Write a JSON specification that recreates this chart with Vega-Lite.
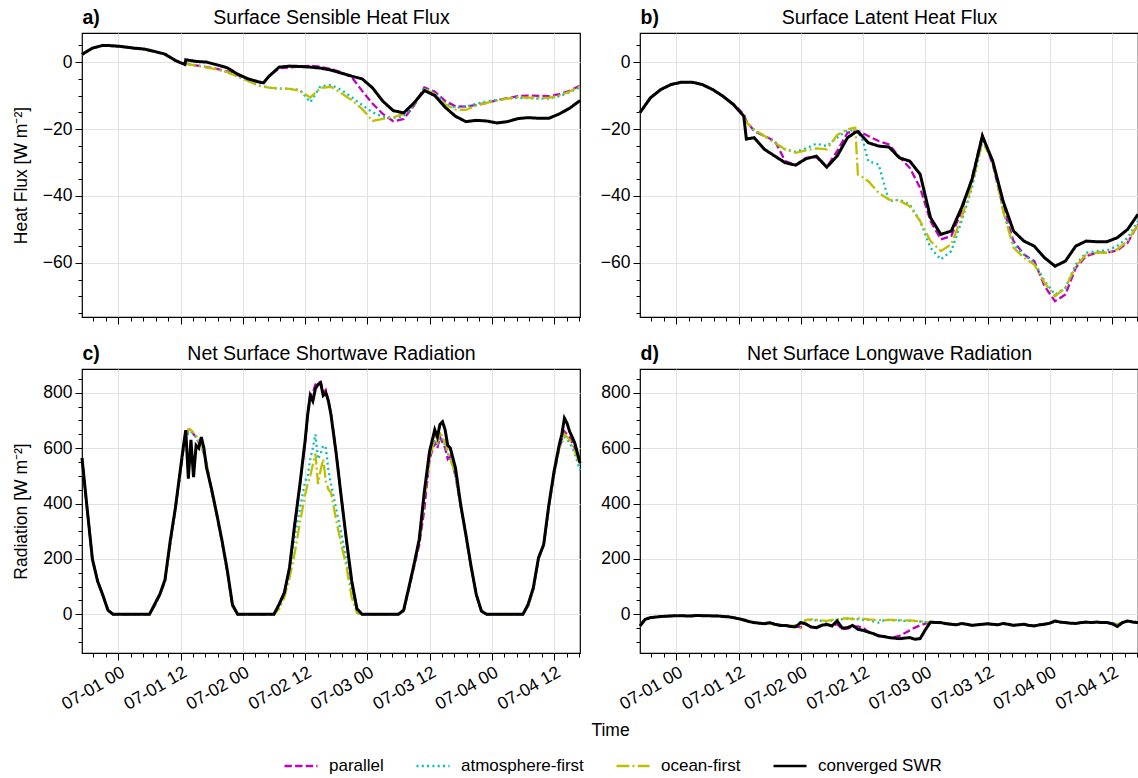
{
  "$schema": "https://vega.github.io/schema/vega-lite/v6.json",
  "padding": {"left": 11, "top": 6, "right": 4, "bottom": 4},
  "background": "white",
  "config": {
    "font": "Liberation Sans",
    "view": {"stroke": "#000000", "strokeWidth": 1.2},
    "axis": {"domain": false, "tickColor": "#000000", "tickWidth": 1, "labelColor": "#000000", "labelFontSize": 17.5, "labelPadding": 3, "titleColor": "#000000", "titleFontSize": 17.5, "titleFontWeight": "normal", "gridColor": "#e2e2e2", "gridWidth": 1},
    "line": {"strokeCap": "butt"}
  },
  "datasets": {
    "sh": [
      {"t":"2023-06-30T17:00Z","parallel":2.3,"atmosphere-first":2.3,"ocean-first":2.3,"converged SWR":2.3},
      {"t":"2023-06-30T19:00Z","parallel":4.1,"atmosphere-first":4.1,"ocean-first":4.1,"converged SWR":4.2},
      {"t":"2023-06-30T21:00Z","parallel":4.9,"atmosphere-first":4.9,"ocean-first":4.9,"converged SWR":5.0},
      {"t":"2023-06-30T23:00Z","parallel":4.8,"atmosphere-first":4.8,"ocean-first":4.8,"converged SWR":4.9},
      {"t":"2023-07-01T01:00Z","parallel":4.5,"atmosphere-first":4.5,"ocean-first":4.5,"converged SWR":4.6},
      {"t":"2023-07-01T03:00Z","parallel":4.1,"atmosphere-first":4.1,"ocean-first":4.1,"converged SWR":4.2},
      {"t":"2023-07-01T05:00Z","parallel":3.8,"atmosphere-first":3.8,"ocean-first":3.8,"converged SWR":3.9},
      {"t":"2023-07-01T07:00Z","parallel":3.1,"atmosphere-first":3.1,"ocean-first":3.1,"converged SWR":3.2},
      {"t":"2023-07-01T09:00Z","parallel":2.3,"atmosphere-first":2.3,"ocean-first":2.3,"converged SWR":2.4},
      {"t":"2023-07-01T11:00Z","parallel":0.4,"atmosphere-first":0.4,"ocean-first":0.4,"converged SWR":0.5},
      {"t":"2023-07-01T12:00Z","parallel":-0.1,"atmosphere-first":-0.1,"ocean-first":-0.1,"converged SWR":-0.2},
      {"t":"2023-07-01T12:50Z","parallel":-0.3,"atmosphere-first":-0.4,"ocean-first":-0.4,"converged SWR":-0.7},
      {"t":"2023-07-01T13:00Z","parallel":-0.4,"atmosphere-first":-0.5,"ocean-first":-0.5,"converged SWR":0.7},
      {"t":"2023-07-01T15:00Z","parallel":-1.0,"atmosphere-first":-1.0,"ocean-first":-1.0,"converged SWR":0.2},
      {"t":"2023-07-01T17:00Z","parallel":-1.5,"atmosphere-first":-1.5,"ocean-first":-1.6,"converged SWR":0.0},
      {"t":"2023-07-01T19:00Z","parallel":-2.0,"atmosphere-first":-2.1,"ocean-first":-2.2,"converged SWR":-0.8},
      {"t":"2023-07-01T21:00Z","parallel":-2.8,"atmosphere-first":-3.0,"ocean-first":-3.0,"converged SWR":-1.7},
      {"t":"2023-07-01T23:00Z","parallel":-3.9,"atmosphere-first":-4.3,"ocean-first":-4.3,"converged SWR":-3.6},
      {"t":"2023-07-02T01:00Z","parallel":-5.0,"atmosphere-first":-5.6,"ocean-first":-5.6,"converged SWR":-5.0},
      {"t":"2023-07-02T03:00Z","parallel":-5.9,"atmosphere-first":-7.0,"ocean-first":-7.0,"converged SWR":-5.9},
      {"t":"2023-07-02T04:00Z","parallel":-6.2,"atmosphere-first":-7.3,"ocean-first":-7.3,"converged SWR":-6.2},
      {"t":"2023-07-02T05:00Z","parallel":-4.3,"atmosphere-first":-7.6,"ocean-first":-7.6,"converged SWR":-4.3},
      {"t":"2023-07-02T07:00Z","parallel":-1.8,"atmosphere-first":-7.9,"ocean-first":-7.9,"converged SWR":-1.5},
      {"t":"2023-07-02T09:00Z","parallel":-1.6,"atmosphere-first":-8.0,"ocean-first":-8.0,"converged SWR":-1.2},
      {"t":"2023-07-02T11:00Z","parallel":-1.3,"atmosphere-first":-8.3,"ocean-first":-8.6,"converged SWR":-1.3},
      {"t":"2023-07-02T13:00Z","parallel":-1.1,"atmosphere-first":-12.0,"ocean-first":-10.6,"converged SWR":-1.5},
      {"t":"2023-07-02T15:00Z","parallel":-1.4,"atmosphere-first":-7.2,"ocean-first":-7.7,"converged SWR":-1.8},
      {"t":"2023-07-02T17:00Z","parallel":-2.1,"atmosphere-first":-6.8,"ocean-first":-7.4,"converged SWR":-2.4},
      {"t":"2023-07-02T19:00Z","parallel":-3.0,"atmosphere-first":-8.3,"ocean-first":-9.3,"converged SWR":-3.3},
      {"t":"2023-07-02T21:00Z","parallel":-4.5,"atmosphere-first":-10.5,"ocean-first":-11.4,"converged SWR":-4.2},
      {"t":"2023-07-02T23:00Z","parallel":-8.6,"atmosphere-first":-12.8,"ocean-first":-14.0,"converged SWR":-5.0},
      {"t":"2023-07-03T01:00Z","parallel":-12.4,"atmosphere-first":-15.0,"ocean-first":-17.6,"converged SWR":-7.7},
      {"t":"2023-07-03T03:00Z","parallel":-15.5,"atmosphere-first":-16.3,"ocean-first":-17.0,"converged SWR":-11.7},
      {"t":"2023-07-03T05:00Z","parallel":-17.7,"atmosphere-first":-16.7,"ocean-first":-16.5,"converged SWR":-14.5},
      {"t":"2023-07-03T07:00Z","parallel":-17.0,"atmosphere-first":-16.2,"ocean-first":-15.5,"converged SWR":-15.2},
      {"t":"2023-07-03T09:00Z","parallel":-13.0,"atmosphere-first":-13.0,"ocean-first":-12.5,"converged SWR":-12.2},
      {"t":"2023-07-03T11:00Z","parallel":-7.6,"atmosphere-first":-7.8,"ocean-first":-8.2,"converged SWR":-8.5},
      {"t":"2023-07-03T13:00Z","parallel":-8.8,"atmosphere-first":-9.3,"ocean-first":-9.5,"converged SWR":-10.0},
      {"t":"2023-07-03T15:00Z","parallel":-11.6,"atmosphere-first":-12.3,"ocean-first":-12.6,"converged SWR":-13.5},
      {"t":"2023-07-03T17:00Z","parallel":-13.2,"atmosphere-first":-13.7,"ocean-first":-14.2,"converged SWR":-16.2},
      {"t":"2023-07-03T19:00Z","parallel":-13.3,"atmosphere-first":-13.3,"ocean-first":-14.3,"converged SWR":-17.8},
      {"t":"2023-07-03T21:00Z","parallel":-12.8,"atmosphere-first":-12.5,"ocean-first":-13.0,"converged SWR":-17.4},
      {"t":"2023-07-03T23:00Z","parallel":-12.2,"atmosphere-first":-11.8,"ocean-first":-12.2,"converged SWR":-17.6},
      {"t":"2023-07-04T01:00Z","parallel":-11.4,"atmosphere-first":-11.3,"ocean-first":-11.5,"converged SWR":-18.2},
      {"t":"2023-07-04T03:00Z","parallel":-10.8,"atmosphere-first":-10.9,"ocean-first":-10.9,"converged SWR":-17.8},
      {"t":"2023-07-04T05:00Z","parallel":-10.2,"atmosphere-first":-10.7,"ocean-first":-10.5,"converged SWR":-16.9},
      {"t":"2023-07-04T07:00Z","parallel":-10.0,"atmosphere-first":-10.8,"ocean-first":-10.6,"converged SWR":-16.6},
      {"t":"2023-07-04T09:00Z","parallel":-10.1,"atmosphere-first":-10.9,"ocean-first":-10.7,"converged SWR":-16.8},
      {"t":"2023-07-04T11:00Z","parallel":-10.2,"atmosphere-first":-10.9,"ocean-first":-10.7,"converged SWR":-16.8},
      {"t":"2023-07-04T13:00Z","parallel":-9.6,"atmosphere-first":-10.2,"ocean-first":-10.0,"converged SWR":-15.5},
      {"t":"2023-07-04T15:00Z","parallel":-8.6,"atmosphere-first":-9.0,"ocean-first":-8.8,"converged SWR":-13.8},
      {"t":"2023-07-04T17:00Z","parallel":-7.0,"atmosphere-first":-7.5,"ocean-first":-7.2,"converged SWR":-11.5}
    ],
    "lh": [
      {"t":"2023-06-30T17:00Z","parallel":-15.1,"atmosphere-first":-15.1,"ocean-first":-15.1,"converged SWR":-15.1},
      {"t":"2023-06-30T19:00Z","parallel":-10.7,"atmosphere-first":-10.7,"ocean-first":-10.7,"converged SWR":-10.7},
      {"t":"2023-06-30T21:00Z","parallel":-8.2,"atmosphere-first":-8.2,"ocean-first":-8.2,"converged SWR":-8.2},
      {"t":"2023-06-30T23:00Z","parallel":-6.7,"atmosphere-first":-6.7,"ocean-first":-6.7,"converged SWR":-6.7},
      {"t":"2023-07-01T01:00Z","parallel":-6.0,"atmosphere-first":-6.0,"ocean-first":-6.0,"converged SWR":-6.0},
      {"t":"2023-07-01T03:00Z","parallel":-6.0,"atmosphere-first":-6.0,"ocean-first":-6.0,"converged SWR":-6.0},
      {"t":"2023-07-01T05:00Z","parallel":-6.7,"atmosphere-first":-6.7,"ocean-first":-6.7,"converged SWR":-6.7},
      {"t":"2023-07-01T07:00Z","parallel":-8.2,"atmosphere-first":-8.2,"ocean-first":-8.2,"converged SWR":-8.2},
      {"t":"2023-07-01T09:00Z","parallel":-10.2,"atmosphere-first":-10.2,"ocean-first":-10.2,"converged SWR":-10.2},
      {"t":"2023-07-01T11:00Z","parallel":-12.5,"atmosphere-first":-12.5,"ocean-first":-12.5,"converged SWR":-12.7},
      {"t":"2023-07-01T13:00Z","parallel":-15.6,"atmosphere-first":-16.1,"ocean-first":-16.1,"converged SWR":-16.1},
      {"t":"2023-07-01T13:30Z","parallel":-17.6,"atmosphere-first":-18.0,"ocean-first":-18.0,"converged SWR":-23.0},
      {"t":"2023-07-01T15:00Z","parallel":-20.6,"atmosphere-first":-20.6,"ocean-first":-20.1,"converged SWR":-22.6},
      {"t":"2023-07-01T17:00Z","parallel":-22.1,"atmosphere-first":-22.1,"ocean-first":-22.1,"converged SWR":-26.1},
      {"t":"2023-07-01T19:00Z","parallel":-23.6,"atmosphere-first":-24.1,"ocean-first":-24.1,"converged SWR":-28.1},
      {"t":"2023-07-01T21:00Z","parallel":-29.6,"atmosphere-first":-26.1,"ocean-first":-26.1,"converged SWR":-30.1},
      {"t":"2023-07-01T23:00Z","parallel":-30.8,"atmosphere-first":-26.8,"ocean-first":-27.1,"converged SWR":-30.8},
      {"t":"2023-07-02T01:00Z","parallel":-28.6,"atmosphere-first":-25.8,"ocean-first":-26.4,"converged SWR":-28.9},
      {"t":"2023-07-02T03:00Z","parallel":-28.4,"atmosphere-first":-24.4,"ocean-first":-25.8,"converged SWR":-28.1},
      {"t":"2023-07-02T05:00Z","parallel":-31.4,"atmosphere-first":-25.1,"ocean-first":-26.1,"converged SWR":-31.4},
      {"t":"2023-07-02T07:00Z","parallel":-26.6,"atmosphere-first":-22.6,"ocean-first":-21.8,"converged SWR":-28.1},
      {"t":"2023-07-02T09:00Z","parallel":-21.1,"atmosphere-first":-20.4,"ocean-first":-20.1,"converged SWR":-22.6},
      {"t":"2023-07-02T10:30Z","parallel":-20.7,"atmosphere-first":-20.5,"ocean-first":-19.6,"converged SWR":-21.0},
      {"t":"2023-07-02T11:00Z","parallel":-20.6,"atmosphere-first":-20.8,"ocean-first":-33.6,"converged SWR":-20.8},
      {"t":"2023-07-02T12:00Z","parallel":-21.3,"atmosphere-first":-23.6,"ocean-first":-34.5,"converged SWR":-22.4},
      {"t":"2023-07-02T13:00Z","parallel":-22.1,"atmosphere-first":-29.6,"ocean-first":-35.6,"converged SWR":-24.1},
      {"t":"2023-07-02T15:00Z","parallel":-23.6,"atmosphere-first":-30.6,"ocean-first":-39.1,"converged SWR":-25.1},
      {"t":"2023-07-02T17:00Z","parallel":-24.6,"atmosphere-first":-41.6,"ocean-first":-41.1,"converged SWR":-25.4},
      {"t":"2023-07-02T19:00Z","parallel":-28.4,"atmosphere-first":-41.1,"ocean-first":-41.4,"converged SWR":-28.6},
      {"t":"2023-07-02T21:00Z","parallel":-31.6,"atmosphere-first":-42.6,"ocean-first":-43.1,"converged SWR":-29.6},
      {"t":"2023-07-02T23:00Z","parallel":-37.6,"atmosphere-first":-47.5,"ocean-first":-47.5,"converged SWR":-33.5},
      {"t":"2023-07-03T01:00Z","parallel":-47.5,"atmosphere-first":-55.5,"ocean-first":-53.5,"converged SWR":-46.5},
      {"t":"2023-07-03T03:00Z","parallel":-53.0,"atmosphere-first":-59.0,"ocean-first":-56.5,"converged SWR":-51.5},
      {"t":"2023-07-03T05:00Z","parallel":-52.0,"atmosphere-first":-56.5,"ocean-first":-54.5,"converged SWR":-50.5},
      {"t":"2023-07-03T07:00Z","parallel":-44.5,"atmosphere-first":-47.5,"ocean-first":-46.5,"converged SWR":-43.5},
      {"t":"2023-07-03T09:00Z","parallel":-34.6,"atmosphere-first":-37.6,"ocean-first":-36.6,"converged SWR":-35.1},
      {"t":"2023-07-03T11:00Z","parallel":-21.8,"atmosphere-first":-23.6,"ocean-first":-23.6,"converged SWR":-22.1},
      {"t":"2023-07-03T13:00Z","parallel":-30.6,"atmosphere-first":-29.6,"ocean-first":-29.6,"converged SWR":-29.6},
      {"t":"2023-07-03T15:00Z","parallel":-43.5,"atmosphere-first":-44.5,"ocean-first":-44.5,"converged SWR":-41.6},
      {"t":"2023-07-03T17:00Z","parallel":-53.5,"atmosphere-first":-54.5,"ocean-first":-55.5,"converged SWR":-50.5},
      {"t":"2023-07-03T19:00Z","parallel":-57.5,"atmosphere-first":-57.5,"ocean-first":-58.5,"converged SWR":-53.5},
      {"t":"2023-07-03T21:00Z","parallel":-59.5,"atmosphere-first":-60.0,"ocean-first":-60.5,"converged SWR":-55.0},
      {"t":"2023-07-03T23:00Z","parallel":-67.0,"atmosphere-first":-65.5,"ocean-first":-66.0,"converged SWR":-58.5},
      {"t":"2023-07-04T01:00Z","parallel":-71.5,"atmosphere-first":-69.5,"ocean-first":-70.0,"converged SWR":-61.0},
      {"t":"2023-07-04T03:00Z","parallel":-69.5,"atmosphere-first":-67.5,"ocean-first":-67.5,"converged SWR":-59.5},
      {"t":"2023-07-04T05:00Z","parallel":-61.5,"atmosphere-first":-60.5,"ocean-first":-61.0,"converged SWR":-55.0},
      {"t":"2023-07-04T07:00Z","parallel":-58.0,"atmosphere-first":-57.0,"ocean-first":-57.5,"converged SWR":-53.5},
      {"t":"2023-07-04T09:00Z","parallel":-57.0,"atmosphere-first":-56.5,"ocean-first":-57.0,"converged SWR":-53.7},
      {"t":"2023-07-04T11:00Z","parallel":-57.0,"atmosphere-first":-56.3,"ocean-first":-57.0,"converged SWR":-53.7},
      {"t":"2023-07-04T13:00Z","parallel":-56.3,"atmosphere-first":-55.0,"ocean-first":-56.0,"converged SWR":-52.5},
      {"t":"2023-07-04T15:00Z","parallel":-54.0,"atmosphere-first":-52.5,"ocean-first":-53.5,"converged SWR":-50.0},
      {"t":"2023-07-04T17:00Z","parallel":-48.5,"atmosphere-first":-47.5,"ocean-first":-48.5,"converged SWR":-45.5}
    ],
    "sw": [
      {"t":"2023-06-30T17:00Z","parallel":560,"atmosphere-first":560,"ocean-first":560,"converged SWR":565},
      {"t":"2023-06-30T18:00Z","parallel":380,"atmosphere-first":380,"ocean-first":380,"converged SWR":380},
      {"t":"2023-06-30T19:00Z","parallel":200,"atmosphere-first":200,"ocean-first":200,"converged SWR":200},
      {"t":"2023-06-30T20:00Z","parallel":120,"atmosphere-first":120,"ocean-first":120,"converged SWR":120},
      {"t":"2023-06-30T21:00Z","parallel":70,"atmosphere-first":70,"ocean-first":70,"converged SWR":70},
      {"t":"2023-06-30T22:00Z","parallel":15,"atmosphere-first":15,"ocean-first":15,"converged SWR":15},
      {"t":"2023-06-30T23:00Z","parallel":0,"atmosphere-first":0,"ocean-first":0,"converged SWR":0},
      {"t":"2023-07-01T00:00Z","parallel":0,"atmosphere-first":0,"ocean-first":0,"converged SWR":0},
      {"t":"2023-07-01T01:00Z","parallel":0,"atmosphere-first":0,"ocean-first":0,"converged SWR":0},
      {"t":"2023-07-01T02:00Z","parallel":0,"atmosphere-first":0,"ocean-first":0,"converged SWR":0},
      {"t":"2023-07-01T03:00Z","parallel":0,"atmosphere-first":0,"ocean-first":0,"converged SWR":0},
      {"t":"2023-07-01T04:00Z","parallel":0,"atmosphere-first":0,"ocean-first":0,"converged SWR":0},
      {"t":"2023-07-01T05:00Z","parallel":0,"atmosphere-first":0,"ocean-first":0,"converged SWR":0},
      {"t":"2023-07-01T06:00Z","parallel":0,"atmosphere-first":0,"ocean-first":0,"converged SWR":0},
      {"t":"2023-07-01T07:00Z","parallel":30,"atmosphere-first":30,"ocean-first":30,"converged SWR":36},
      {"t":"2023-07-01T08:00Z","parallel":70,"atmosphere-first":70,"ocean-first":70,"converged SWR":72},
      {"t":"2023-07-01T09:00Z","parallel":120,"atmosphere-first":120,"ocean-first":120,"converged SWR":125},
      {"t":"2023-07-01T10:00Z","parallel":255,"atmosphere-first":255,"ocean-first":255,"converged SWR":264},
      {"t":"2023-07-01T11:00Z","parallel":380,"atmosphere-first":380,"ocean-first":380,"converged SWR":384},
      {"t":"2023-07-01T12:00Z","parallel":520,"atmosphere-first":520,"ocean-first":520,"converged SWR":528},
      {"t":"2023-07-01T12:30Z","parallel":590,"atmosphere-first":585,"ocean-first":590,"converged SWR":600},
      {"t":"2023-07-01T13:00Z","parallel":640,"atmosphere-first":630,"ocean-first":650,"converged SWR":665},
      {"t":"2023-07-01T13:30Z","parallel":665,"atmosphere-first":655,"ocean-first":668,"converged SWR":490},
      {"t":"2023-07-01T14:00Z","parallel":670,"atmosphere-first":660,"ocean-first":665,"converged SWR":630},
      {"t":"2023-07-01T14:30Z","parallel":650,"atmosphere-first":648,"ocean-first":655,"converged SWR":495},
      {"t":"2023-07-01T15:00Z","parallel":640,"atmosphere-first":640,"ocean-first":645,"converged SWR":610},
      {"t":"2023-07-01T15:30Z","parallel":620,"atmosphere-first":620,"ocean-first":625,"converged SWR":600},
      {"t":"2023-07-01T16:00Z","parallel":610,"atmosphere-first":610,"ocean-first":615,"converged SWR":640},
      {"t":"2023-07-01T16:30Z","parallel":580,"atmosphere-first":578,"ocean-first":580,"converged SWR":600},
      {"t":"2023-07-01T17:00Z","parallel":545,"atmosphere-first":545,"ocean-first":545,"converged SWR":530},
      {"t":"2023-07-01T18:00Z","parallel":445,"atmosphere-first":445,"ocean-first":445,"converged SWR":450},
      {"t":"2023-07-01T19:00Z","parallel":355,"atmosphere-first":355,"ocean-first":355,"converged SWR":360},
      {"t":"2023-07-01T20:00Z","parallel":260,"atmosphere-first":260,"ocean-first":260,"converged SWR":265},
      {"t":"2023-07-01T21:00Z","parallel":155,"atmosphere-first":155,"ocean-first":155,"converged SWR":160},
      {"t":"2023-07-01T22:00Z","parallel":30,"atmosphere-first":30,"ocean-first":30,"converged SWR":35},
      {"t":"2023-07-01T23:00Z","parallel":0,"atmosphere-first":0,"ocean-first":0,"converged SWR":0},
      {"t":"2023-07-02T00:00Z","parallel":0,"atmosphere-first":0,"ocean-first":0,"converged SWR":0},
      {"t":"2023-07-02T01:00Z","parallel":0,"atmosphere-first":0,"ocean-first":0,"converged SWR":0},
      {"t":"2023-07-02T02:00Z","parallel":0,"atmosphere-first":0,"ocean-first":0,"converged SWR":0},
      {"t":"2023-07-02T03:00Z","parallel":0,"atmosphere-first":0,"ocean-first":0,"converged SWR":0},
      {"t":"2023-07-02T04:00Z","parallel":0,"atmosphere-first":0,"ocean-first":0,"converged SWR":0},
      {"t":"2023-07-02T05:00Z","parallel":0,"atmosphere-first":0,"ocean-first":0,"converged SWR":0},
      {"t":"2023-07-02T06:00Z","parallel":0,"atmosphere-first":0,"ocean-first":0,"converged SWR":0},
      {"t":"2023-07-02T07:00Z","parallel":36,"atmosphere-first":25,"ocean-first":20,"converged SWR":36},
      {"t":"2023-07-02T08:00Z","parallel":78,"atmosphere-first":70,"ocean-first":60,"converged SWR":78},
      {"t":"2023-07-02T09:00Z","parallel":165,"atmosphere-first":160,"ocean-first":130,"converged SWR":168},
      {"t":"2023-07-02T10:00Z","parallel":320,"atmosphere-first":280,"ocean-first":220,"converged SWR":324},
      {"t":"2023-07-02T11:00Z","parallel":465,"atmosphere-first":380,"ocean-first":330,"converged SWR":468},
      {"t":"2023-07-02T12:00Z","parallel":620,"atmosphere-first":480,"ocean-first":430,"converged SWR":625},
      {"t":"2023-07-02T12:30Z","parallel":720,"atmosphere-first":500,"ocean-first":470,"converged SWR":720},
      {"t":"2023-07-02T13:00Z","parallel":790,"atmosphere-first":560,"ocean-first":500,"converged SWR":790},
      {"t":"2023-07-02T13:30Z","parallel":800,"atmosphere-first":600,"ocean-first":540,"converged SWR":770},
      {"t":"2023-07-02T14:00Z","parallel":830,"atmosphere-first":650,"ocean-first":580,"converged SWR":815},
      {"t":"2023-07-02T14:30Z","parallel":835,"atmosphere-first":560,"ocean-first":470,"converged SWR":830},
      {"t":"2023-07-02T15:00Z","parallel":840,"atmosphere-first":580,"ocean-first":520,"converged SWR":835},
      {"t":"2023-07-02T15:30Z","parallel":800,"atmosphere-first":610,"ocean-first":560,"converged SWR":790},
      {"t":"2023-07-02T16:00Z","parallel":810,"atmosphere-first":600,"ocean-first":480,"converged SWR":800},
      {"t":"2023-07-02T16:30Z","parallel":770,"atmosphere-first":520,"ocean-first":450,"converged SWR":770},
      {"t":"2023-07-02T17:00Z","parallel":725,"atmosphere-first":470,"ocean-first":440,"converged SWR":720},
      {"t":"2023-07-02T18:00Z","parallel":585,"atmosphere-first":380,"ocean-first":340,"converged SWR":580},
      {"t":"2023-07-02T19:00Z","parallel":420,"atmosphere-first":290,"ocean-first":250,"converged SWR":420},
      {"t":"2023-07-02T20:00Z","parallel":260,"atmosphere-first":190,"ocean-first":170,"converged SWR":265},
      {"t":"2023-07-02T21:00Z","parallel":115,"atmosphere-first":80,"ocean-first":60,"converged SWR":120},
      {"t":"2023-07-02T22:00Z","parallel":18,"atmosphere-first":5,"ocean-first":5,"converged SWR":20},
      {"t":"2023-07-02T23:00Z","parallel":0,"atmosphere-first":0,"ocean-first":0,"converged SWR":0},
      {"t":"2023-07-03T00:00Z","parallel":0,"atmosphere-first":0,"ocean-first":0,"converged SWR":0},
      {"t":"2023-07-03T01:00Z","parallel":0,"atmosphere-first":0,"ocean-first":0,"converged SWR":0},
      {"t":"2023-07-03T02:00Z","parallel":0,"atmosphere-first":0,"ocean-first":0,"converged SWR":0},
      {"t":"2023-07-03T03:00Z","parallel":0,"atmosphere-first":0,"ocean-first":0,"converged SWR":0},
      {"t":"2023-07-03T04:00Z","parallel":0,"atmosphere-first":0,"ocean-first":0,"converged SWR":0},
      {"t":"2023-07-03T05:00Z","parallel":0,"atmosphere-first":0,"ocean-first":0,"converged SWR":0},
      {"t":"2023-07-03T06:00Z","parallel":0,"atmosphere-first":0,"ocean-first":0,"converged SWR":0},
      {"t":"2023-07-03T07:00Z","parallel":12,"atmosphere-first":12,"ocean-first":12,"converged SWR":15},
      {"t":"2023-07-03T08:00Z","parallel":90,"atmosphere-first":95,"ocean-first":95,"converged SWR":96},
      {"t":"2023-07-03T09:00Z","parallel":170,"atmosphere-first":175,"ocean-first":175,"converged SWR":180},
      {"t":"2023-07-03T10:00Z","parallel":250,"atmosphere-first":265,"ocean-first":265,"converged SWR":270},
      {"t":"2023-07-03T11:00Z","parallel":380,"atmosphere-first":430,"ocean-first":420,"converged SWR":444},
      {"t":"2023-07-03T12:00Z","parallel":560,"atmosphere-first":570,"ocean-first":560,"converged SWR":588},
      {"t":"2023-07-03T13:00Z","parallel":620,"atmosphere-first":630,"ocean-first":640,"converged SWR":666},
      {"t":"2023-07-03T13:30Z","parallel":600,"atmosphere-first":610,"ocean-first":620,"converged SWR":640},
      {"t":"2023-07-03T14:00Z","parallel":640,"atmosphere-first":650,"ocean-first":660,"converged SWR":685},
      {"t":"2023-07-03T14:30Z","parallel":620,"atmosphere-first":630,"ocean-first":640,"converged SWR":695},
      {"t":"2023-07-03T15:00Z","parallel":600,"atmosphere-first":610,"ocean-first":620,"converged SWR":666},
      {"t":"2023-07-03T15:30Z","parallel":560,"atmosphere-first":580,"ocean-first":590,"converged SWR":610},
      {"t":"2023-07-03T16:00Z","parallel":570,"atmosphere-first":560,"ocean-first":560,"converged SWR":600},
      {"t":"2023-07-03T17:00Z","parallel":500,"atmosphere-first":500,"ocean-first":510,"converged SWR":528},
      {"t":"2023-07-03T18:00Z","parallel":390,"atmosphere-first":385,"ocean-first":390,"converged SWR":396},
      {"t":"2023-07-03T19:00Z","parallel":285,"atmosphere-first":280,"ocean-first":285,"converged SWR":288},
      {"t":"2023-07-03T20:00Z","parallel":170,"atmosphere-first":170,"ocean-first":170,"converged SWR":174},
      {"t":"2023-07-03T21:00Z","parallel":70,"atmosphere-first":70,"ocean-first":70,"converged SWR":72},
      {"t":"2023-07-03T22:00Z","parallel":10,"atmosphere-first":10,"ocean-first":10,"converged SWR":12},
      {"t":"2023-07-03T23:00Z","parallel":0,"atmosphere-first":0,"ocean-first":0,"converged SWR":0},
      {"t":"2023-07-04T00:00Z","parallel":0,"atmosphere-first":0,"ocean-first":0,"converged SWR":0},
      {"t":"2023-07-04T01:00Z","parallel":0,"atmosphere-first":0,"ocean-first":0,"converged SWR":0},
      {"t":"2023-07-04T02:00Z","parallel":0,"atmosphere-first":0,"ocean-first":0,"converged SWR":0},
      {"t":"2023-07-04T03:00Z","parallel":0,"atmosphere-first":0,"ocean-first":0,"converged SWR":0},
      {"t":"2023-07-04T04:00Z","parallel":0,"atmosphere-first":0,"ocean-first":0,"converged SWR":0},
      {"t":"2023-07-04T05:00Z","parallel":0,"atmosphere-first":0,"ocean-first":0,"converged SWR":0},
      {"t":"2023-07-04T06:00Z","parallel":0,"atmosphere-first":0,"ocean-first":0,"converged SWR":0},
      {"t":"2023-07-04T07:00Z","parallel":30,"atmosphere-first":30,"ocean-first":30,"converged SWR":36},
      {"t":"2023-07-04T08:00Z","parallel":90,"atmosphere-first":90,"ocean-first":90,"converged SWR":96},
      {"t":"2023-07-04T09:00Z","parallel":200,"atmosphere-first":200,"ocean-first":200,"converged SWR":204},
      {"t":"2023-07-04T10:00Z","parallel":250,"atmosphere-first":250,"ocean-first":250,"converged SWR":252},
      {"t":"2023-07-04T11:00Z","parallel":390,"atmosphere-first":385,"ocean-first":390,"converged SWR":396},
      {"t":"2023-07-04T12:00Z","parallel":505,"atmosphere-first":510,"ocean-first":510,"converged SWR":516},
      {"t":"2023-07-04T13:00Z","parallel":600,"atmosphere-first":600,"ocean-first":600,"converged SWR":612},
      {"t":"2023-07-04T13:30Z","parallel":630,"atmosphere-first":620,"ocean-first":625,"converged SWR":650},
      {"t":"2023-07-04T14:00Z","parallel":660,"atmosphere-first":640,"ocean-first":650,"converged SWR":708},
      {"t":"2023-07-04T14:30Z","parallel":650,"atmosphere-first":630,"ocean-first":640,"converged SWR":690},
      {"t":"2023-07-04T15:00Z","parallel":640,"atmosphere-first":620,"ocean-first":630,"converged SWR":660},
      {"t":"2023-07-04T15:30Z","parallel":620,"atmosphere-first":600,"ocean-first":610,"converged SWR":640},
      {"t":"2023-07-04T16:00Z","parallel":600,"atmosphere-first":580,"ocean-first":590,"converged SWR":618},
      {"t":"2023-07-04T17:00Z","parallel":550,"atmosphere-first":520,"ocean-first":540,"converged SWR":546}
    ],
    "lw": [
      {"t":"2023-06-30T17:00Z","parallel":-40,"atmosphere-first":-40,"ocean-first":-40,"converged SWR":-42},
      {"t":"2023-06-30T18:00Z","parallel":-18,"atmosphere-first":-18,"ocean-first":-18,"converged SWR":-18},
      {"t":"2023-06-30T19:00Z","parallel":-12,"atmosphere-first":-12,"ocean-first":-12,"converged SWR":-12},
      {"t":"2023-06-30T20:00Z","parallel":-10,"atmosphere-first":-10,"ocean-first":-10,"converged SWR":-10},
      {"t":"2023-06-30T21:00Z","parallel":-8,"atmosphere-first":-8,"ocean-first":-8,"converged SWR":-8},
      {"t":"2023-06-30T22:00Z","parallel":-7,"atmosphere-first":-7,"ocean-first":-7,"converged SWR":-7},
      {"t":"2023-06-30T23:00Z","parallel":-6,"atmosphere-first":-6,"ocean-first":-6,"converged SWR":-6},
      {"t":"2023-07-01T00:00Z","parallel":-5,"atmosphere-first":-5,"ocean-first":-5,"converged SWR":-5},
      {"t":"2023-07-01T01:00Z","parallel":-5,"atmosphere-first":-5,"ocean-first":-5,"converged SWR":-5},
      {"t":"2023-07-01T02:00Z","parallel":-6,"atmosphere-first":-6,"ocean-first":-6,"converged SWR":-6},
      {"t":"2023-07-01T03:00Z","parallel":-5,"atmosphere-first":-5,"ocean-first":-5,"converged SWR":-6},
      {"t":"2023-07-01T04:00Z","parallel":-4,"atmosphere-first":-4,"ocean-first":-4,"converged SWR":-4},
      {"t":"2023-07-01T05:00Z","parallel":-5,"atmosphere-first":-5,"ocean-first":-5,"converged SWR":-5},
      {"t":"2023-07-01T06:00Z","parallel":-5,"atmosphere-first":-5,"ocean-first":-5,"converged SWR":-5},
      {"t":"2023-07-01T07:00Z","parallel":-6,"atmosphere-first":-6,"ocean-first":-6,"converged SWR":-6},
      {"t":"2023-07-01T08:00Z","parallel":-6,"atmosphere-first":-6,"ocean-first":-6,"converged SWR":-6},
      {"t":"2023-07-01T09:00Z","parallel":-8,"atmosphere-first":-8,"ocean-first":-8,"converged SWR":-8},
      {"t":"2023-07-01T10:00Z","parallel":-9,"atmosphere-first":-9,"ocean-first":-9,"converged SWR":-9},
      {"t":"2023-07-01T11:00Z","parallel":-12,"atmosphere-first":-12,"ocean-first":-12,"converged SWR":-12},
      {"t":"2023-07-01T12:00Z","parallel":-16,"atmosphere-first":-16,"ocean-first":-16,"converged SWR":-16},
      {"t":"2023-07-01T13:00Z","parallel":-22,"atmosphere-first":-22,"ocean-first":-22,"converged SWR":-20},
      {"t":"2023-07-01T14:00Z","parallel":-26,"atmosphere-first":-26,"ocean-first":-26,"converged SWR":-26},
      {"t":"2023-07-01T15:00Z","parallel":-30,"atmosphere-first":-30,"ocean-first":-30,"converged SWR":-30},
      {"t":"2023-07-01T16:00Z","parallel":-32,"atmosphere-first":-32,"ocean-first":-32,"converged SWR":-32},
      {"t":"2023-07-01T17:00Z","parallel":-34,"atmosphere-first":-34,"ocean-first":-34,"converged SWR":-34},
      {"t":"2023-07-01T18:00Z","parallel":-32,"atmosphere-first":-32,"ocean-first":-32,"converged SWR":-30},
      {"t":"2023-07-01T19:00Z","parallel":-36,"atmosphere-first":-36,"ocean-first":-36,"converged SWR":-36},
      {"t":"2023-07-01T20:00Z","parallel":-38,"atmosphere-first":-38,"ocean-first":-38,"converged SWR":-40},
      {"t":"2023-07-01T21:00Z","parallel":-40,"atmosphere-first":-40,"ocean-first":-40,"converged SWR":-40},
      {"t":"2023-07-01T22:00Z","parallel":-42,"atmosphere-first":-42,"ocean-first":-42,"converged SWR":-44},
      {"t":"2023-07-01T23:00Z","parallel":-44,"atmosphere-first":-40,"ocean-first":-40,"converged SWR":-45},
      {"t":"2023-07-02T00:00Z","parallel":-46,"atmosphere-first":-26,"ocean-first":-50,"converged SWR":-30},
      {"t":"2023-07-02T01:00Z","parallel":-36,"atmosphere-first":-22,"ocean-first":-20,"converged SWR":-35},
      {"t":"2023-07-02T02:00Z","parallel":-46,"atmosphere-first":-20,"ocean-first":-18,"converged SWR":-46},
      {"t":"2023-07-02T03:00Z","parallel":-50,"atmosphere-first":-22,"ocean-first":-20,"converged SWR":-48},
      {"t":"2023-07-02T04:00Z","parallel":-42,"atmosphere-first":-24,"ocean-first":-22,"converged SWR":-40},
      {"t":"2023-07-02T05:00Z","parallel":-38,"atmosphere-first":-26,"ocean-first":-24,"converged SWR":-36},
      {"t":"2023-07-02T06:00Z","parallel":-42,"atmosphere-first":-22,"ocean-first":-20,"converged SWR":-42},
      {"t":"2023-07-02T07:00Z","parallel":-36,"atmosphere-first":-20,"ocean-first":-18,"converged SWR":-24},
      {"t":"2023-07-02T08:00Z","parallel":-54,"atmosphere-first":-18,"ocean-first":-16,"converged SWR":-50},
      {"t":"2023-07-02T09:00Z","parallel":-52,"atmosphere-first":-16,"ocean-first":-14,"converged SWR":-48},
      {"t":"2023-07-02T10:00Z","parallel":-46,"atmosphere-first":-16,"ocean-first":-18,"converged SWR":-40},
      {"t":"2023-07-02T11:00Z","parallel":-44,"atmosphere-first":-18,"ocean-first":-14,"converged SWR":-54},
      {"t":"2023-07-02T12:00Z","parallel":-48,"atmosphere-first":-20,"ocean-first":-16,"converged SWR":-58},
      {"t":"2023-07-02T13:00Z","parallel":-64,"atmosphere-first":-20,"ocean-first":-18,"converged SWR":-64},
      {"t":"2023-07-02T14:00Z","parallel":-70,"atmosphere-first":-26,"ocean-first":-20,"converged SWR":-70},
      {"t":"2023-07-02T15:00Z","parallel":-76,"atmosphere-first":-30,"ocean-first":-20,"converged SWR":-78},
      {"t":"2023-07-02T16:00Z","parallel":-80,"atmosphere-first":-22,"ocean-first":-22,"converged SWR":-80},
      {"t":"2023-07-02T17:00Z","parallel":-84,"atmosphere-first":-20,"ocean-first":-20,"converged SWR":-84},
      {"t":"2023-07-02T18:00Z","parallel":-82,"atmosphere-first":-22,"ocean-first":-20,"converged SWR":-86},
      {"t":"2023-07-02T19:00Z","parallel":-78,"atmosphere-first":-22,"ocean-first":-22,"converged SWR":-88},
      {"t":"2023-07-02T20:00Z","parallel":-68,"atmosphere-first":-24,"ocean-first":-22,"converged SWR":-86},
      {"t":"2023-07-02T21:00Z","parallel":-58,"atmosphere-first":-24,"ocean-first":-22,"converged SWR":-84},
      {"t":"2023-07-02T22:00Z","parallel":-48,"atmosphere-first":-24,"ocean-first":-24,"converged SWR":-90},
      {"t":"2023-07-02T23:00Z","parallel":-40,"atmosphere-first":-26,"ocean-first":-25,"converged SWR":-88},
      {"t":"2023-07-03T00:00Z","parallel":-34,"atmosphere-first":-28,"ocean-first":-28,"converged SWR":-56},
      {"t":"2023-07-03T01:00Z","parallel":-30,"atmosphere-first":-28,"ocean-first":-28,"converged SWR":-28},
      {"t":"2023-07-03T02:00Z","parallel":-30,"atmosphere-first":-29,"ocean-first":-29,"converged SWR":-30},
      {"t":"2023-07-03T03:00Z","parallel":-32,"atmosphere-first":-30,"ocean-first":-30,"converged SWR":-30},
      {"t":"2023-07-03T04:00Z","parallel":-34,"atmosphere-first":-33,"ocean-first":-33,"converged SWR":-34},
      {"t":"2023-07-03T05:00Z","parallel":-36,"atmosphere-first":-35,"ocean-first":-35,"converged SWR":-36},
      {"t":"2023-07-03T06:00Z","parallel":-37,"atmosphere-first":-37,"ocean-first":-37,"converged SWR":-38},
      {"t":"2023-07-03T07:00Z","parallel":-34,"atmosphere-first":-34,"ocean-first":-34,"converged SWR":-33},
      {"t":"2023-07-03T08:00Z","parallel":-36,"atmosphere-first":-36,"ocean-first":-36,"converged SWR":-36},
      {"t":"2023-07-03T09:00Z","parallel":-39,"atmosphere-first":-39,"ocean-first":-39,"converged SWR":-40},
      {"t":"2023-07-03T10:00Z","parallel":-38,"atmosphere-first":-37,"ocean-first":-38,"converged SWR":-38},
      {"t":"2023-07-03T11:00Z","parallel":-36,"atmosphere-first":-36,"ocean-first":-36,"converged SWR":-36},
      {"t":"2023-07-03T12:00Z","parallel":-35,"atmosphere-first":-35,"ocean-first":-35,"converged SWR":-34},
      {"t":"2023-07-03T13:00Z","parallel":-36,"atmosphere-first":-36,"ocean-first":-36,"converged SWR":-36},
      {"t":"2023-07-03T14:00Z","parallel":-37,"atmosphere-first":-37,"ocean-first":-37,"converged SWR":-38},
      {"t":"2023-07-03T15:00Z","parallel":-34,"atmosphere-first":-34,"ocean-first":-34,"converged SWR":-33},
      {"t":"2023-07-03T16:00Z","parallel":-36,"atmosphere-first":-36,"ocean-first":-36,"converged SWR":-36},
      {"t":"2023-07-03T17:00Z","parallel":-39,"atmosphere-first":-38,"ocean-first":-39,"converged SWR":-40},
      {"t":"2023-07-03T18:00Z","parallel":-38,"atmosphere-first":-38,"ocean-first":-38,"converged SWR":-38},
      {"t":"2023-07-03T19:00Z","parallel":-36,"atmosphere-first":-36,"ocean-first":-36,"converged SWR":-36},
      {"t":"2023-07-03T20:00Z","parallel":-40,"atmosphere-first":-39,"ocean-first":-40,"converged SWR":-40},
      {"t":"2023-07-03T21:00Z","parallel":-42,"atmosphere-first":-41,"ocean-first":-42,"converged SWR":-42},
      {"t":"2023-07-03T22:00Z","parallel":-38,"atmosphere-first":-38,"ocean-first":-38,"converged SWR":-38},
      {"t":"2023-07-03T23:00Z","parallel":-35,"atmosphere-first":-36,"ocean-first":-35,"converged SWR":-36},
      {"t":"2023-07-04T00:00Z","parallel":-32,"atmosphere-first":-32,"ocean-first":-32,"converged SWR":-32},
      {"t":"2023-07-04T01:00Z","parallel":-26,"atmosphere-first":-26,"ocean-first":-26,"converged SWR":-24},
      {"t":"2023-07-04T02:00Z","parallel":-28,"atmosphere-first":-28,"ocean-first":-28,"converged SWR":-28},
      {"t":"2023-07-04T03:00Z","parallel":-30,"atmosphere-first":-30,"ocean-first":-30,"converged SWR":-30},
      {"t":"2023-07-04T04:00Z","parallel":-32,"atmosphere-first":-32,"ocean-first":-32,"converged SWR":-32},
      {"t":"2023-07-04T05:00Z","parallel":-33,"atmosphere-first":-32,"ocean-first":-33,"converged SWR":-33},
      {"t":"2023-07-04T06:00Z","parallel":-30,"atmosphere-first":-30,"ocean-first":-30,"converged SWR":-30},
      {"t":"2023-07-04T07:00Z","parallel":-28,"atmosphere-first":-28,"ocean-first":-28,"converged SWR":-28},
      {"t":"2023-07-04T08:00Z","parallel":-30,"atmosphere-first":-30,"ocean-first":-30,"converged SWR":-30},
      {"t":"2023-07-04T09:00Z","parallel":-28,"atmosphere-first":-28,"ocean-first":-28,"converged SWR":-28},
      {"t":"2023-07-04T10:00Z","parallel":-30,"atmosphere-first":-30,"ocean-first":-30,"converged SWR":-30},
      {"t":"2023-07-04T11:00Z","parallel":-30,"atmosphere-first":-30,"ocean-first":-30,"converged SWR":-30},
      {"t":"2023-07-04T12:00Z","parallel":-33,"atmosphere-first":-32,"ocean-first":-33,"converged SWR":-34},
      {"t":"2023-07-04T13:00Z","parallel":-36,"atmosphere-first":-35,"ocean-first":-36,"converged SWR":-44},
      {"t":"2023-07-04T14:00Z","parallel":-30,"atmosphere-first":-30,"ocean-first":-30,"converged SWR":-30},
      {"t":"2023-07-04T15:00Z","parallel":-25,"atmosphere-first":-25,"ocean-first":-25,"converged SWR":-24},
      {"t":"2023-07-04T16:00Z","parallel":-28,"atmosphere-first":-28,"ocean-first":-28,"converged SWR":-28},
      {"t":"2023-07-04T17:00Z","parallel":-30,"atmosphere-first":-30,"ocean-first":-30,"converged SWR":-30}
    ]
  },
  "columns": 2,
  "spacing": {"row": 52, "column": 60},
  "bounds": "flush",
  "resolve": {"scale": {"color": "shared", "strokeDash": "shared"}, "legend": {"color": "shared", "strokeDash": "shared"}},
  "concat": [
    {
      "width": 498, "height": 284,
      "data": {"name": "sh"},
      "transform": [{"fold": ["parallel", "atmosphere-first", "ocean-first", "converged SWR"], "as": ["run", "flux"]}],
      "encoding": {
        "x": {"field": "t", "type": "temporal", "scale": {"type": "utc", "domain": [1688144400000, 1688490000000]}, "axis": null},
        "y": {"field": "flux", "type": "quantitative", "scale": {"domain": [-76.2, 8.7], "nice": false, "zero": false}, "axis": null},
        "color": {"field": "run", "type": "nominal", "scale": {"domain": ["parallel", "atmosphere-first", "ocean-first", "converged SWR"], "range": ["#bf00bf", "#00bfbf", "#bfbf00", "#000000"]}, "legend": {"title": null, "orient": "none", "legendX": 201, "legendY": 715, "direction": "horizontal", "symbolType": "stroke", "symbolSize": 1089, "symbolStrokeWidth": 2.3, "labelFontSize": 17, "labelColor": "#000000", "labelOffset": 10, "columnPadding": 27}},
        "strokeDash": {"field": "run", "type": "nominal", "scale": {"domain": ["parallel", "atmosphere-first", "ocean-first", "converged SWR"], "range": [[7.4, 3.2], [2, 3.3], [12.8, 3.2, 2, 3.2], [1, 0]]}, "legend": {"title": null, "orient": "none", "legendX": 201, "legendY": 715, "direction": "horizontal", "symbolType": "stroke", "symbolSize": 1089, "symbolStrokeWidth": 2.3, "labelFontSize": 17, "labelColor": "#000000", "labelOffset": 10, "columnPadding": 27}}
      },
      "layer": [
        {
          "transform": [{"filter": "datum.run === 'parallel'"}],
          "mark": {"type": "line", "strokeWidth": 2.3},
          "encoding": {
            "x": {"field": "t", "type": "temporal", "scale": {"type": "utc", "domain": [1688144400000, 1688490000000]}, "axis": {"orient": "bottom", "values": [1688169600000, 1688212800000, 1688256000000, 1688299200000, 1688342400000, 1688385600000, 1688428800000, 1688472000000], "labels": false, "grid": true, "tickSize": 7, "title": null}},
            "y": {"field": "flux", "type": "quantitative", "scale": {"domain": [-76.2, 8.7], "nice": false, "zero": false}, "axis": {"orient": "left", "values": [-60, -40, -20, 0], "format": "d", "grid": true, "tickSize": 7, "title": "Heat Flux [W m⁻²]", "titlePadding": 12}}
          }
        },
        {
          "transform": [{"filter": "datum.run === 'atmosphere-first'"}],
          "mark": {"type": "line", "strokeWidth": 2.3},
          "encoding": {
            "x": {"field": "t", "type": "temporal", "scale": {"type": "utc", "domain": [1688144400000, 1688490000000]}, "axis": {"orient": "bottom", "values": [1688152320000, 1688160960000, 1688169600000, 1688178240000, 1688186880000, 1688195520000, 1688204160000, 1688212800000, 1688221440000, 1688230080000, 1688238720000, 1688247360000, 1688256000000, 1688264640000, 1688273280000, 1688281920000, 1688290560000, 1688299200000, 1688307840000, 1688316480000, 1688325120000, 1688333760000, 1688342400000, 1688351040000, 1688359680000, 1688368320000, 1688376960000, 1688385600000, 1688394240000, 1688402880000, 1688411520000, 1688420160000, 1688428800000, 1688437440000, 1688446080000, 1688454720000, 1688463360000, 1688472000000, 1688480640000, 1688489280000], "labels": false, "grid": false, "tickSize": 4, "title": null}},
            "y": {"field": "flux", "type": "quantitative", "scale": {"domain": [-76.2, 8.7], "nice": false, "zero": false}, "axis": {"orient": "left", "values": [5, 0, -5, -10, -15, -20, -25, -30, -35, -40, -45, -50, -55, -60, -65, -70, -75], "labels": false, "grid": false, "tickSize": 4, "title": "a)", "titleAngle": 0, "titleX": 0, "titleY": -10, "titleAlign": "left", "titleBaseline": "alphabetic", "titleFontWeight": "bold", "titleFontSize": 19.5}}
          }
        },
        {
          "transform": [{"filter": "datum.run === 'ocean-first'"}],
          "mark": {"type": "line", "strokeWidth": 2.3},
          "encoding": {
            "x": {"field": "t", "type": "temporal", "scale": {"type": "utc", "domain": [1688144400000, 1688490000000]}, "axis": {"orient": "top", "ticks": false, "labels": false, "grid": false, "title": "Surface Sensible Heat Flux", "titleFontSize": 19.5, "titlePadding": 10, "titleBaseline": "alphabetic"}}
          }
        },
        {
          "transform": [{"filter": "datum.run === 'converged SWR'"}],
          "mark": {"type": "line", "strokeWidth": 3}
        }
      ],
      "resolve": {"axis": {"x": "independent", "y": "independent"}}
    },
    {
      "width": 498, "height": 284,
      "data": {"name": "lh"},
      "transform": [{"fold": ["parallel", "atmosphere-first", "ocean-first", "converged SWR"], "as": ["run", "flux"]}],
      "encoding": {
        "x": {"field": "t", "type": "temporal", "scale": {"type": "utc", "domain": [1688144400000, 1688490000000]}, "axis": null},
        "y": {"field": "flux", "type": "quantitative", "scale": {"domain": [-76.2, 8.7], "nice": false, "zero": false}, "axis": null},
        "color": {"field": "run", "type": "nominal", "scale": {"domain": ["parallel", "atmosphere-first", "ocean-first", "converged SWR"], "range": ["#bf00bf", "#00bfbf", "#bfbf00", "#000000"]}, "legend": {"title": null, "orient": "none", "legendX": 201, "legendY": 715, "direction": "horizontal", "symbolType": "stroke", "symbolSize": 1089, "symbolStrokeWidth": 2.3, "labelFontSize": 17, "labelColor": "#000000", "labelOffset": 10, "columnPadding": 27}},
        "strokeDash": {"field": "run", "type": "nominal", "scale": {"domain": ["parallel", "atmosphere-first", "ocean-first", "converged SWR"], "range": [[7.4, 3.2], [2, 3.3], [12.8, 3.2, 2, 3.2], [1, 0]]}, "legend": {"title": null, "orient": "none", "legendX": 201, "legendY": 715, "direction": "horizontal", "symbolType": "stroke", "symbolSize": 1089, "symbolStrokeWidth": 2.3, "labelFontSize": 17, "labelColor": "#000000", "labelOffset": 10, "columnPadding": 27}}
      },
      "layer": [
        {
          "transform": [{"filter": "datum.run === 'parallel'"}],
          "mark": {"type": "line", "strokeWidth": 2.3},
          "encoding": {
            "x": {"field": "t", "type": "temporal", "scale": {"type": "utc", "domain": [1688144400000, 1688490000000]}, "axis": {"orient": "bottom", "values": [1688169600000, 1688212800000, 1688256000000, 1688299200000, 1688342400000, 1688385600000, 1688428800000, 1688472000000], "labels": false, "grid": true, "tickSize": 7, "title": null}},
            "y": {"field": "flux", "type": "quantitative", "scale": {"domain": [-76.2, 8.7], "nice": false, "zero": false}, "axis": {"orient": "left", "values": [-60, -40, -20, 0], "format": "d", "grid": true, "tickSize": 7, "title": null}}
          }
        },
        {
          "transform": [{"filter": "datum.run === 'atmosphere-first'"}],
          "mark": {"type": "line", "strokeWidth": 2.3},
          "encoding": {
            "x": {"field": "t", "type": "temporal", "scale": {"type": "utc", "domain": [1688144400000, 1688490000000]}, "axis": {"orient": "bottom", "values": [1688152320000, 1688160960000, 1688169600000, 1688178240000, 1688186880000, 1688195520000, 1688204160000, 1688212800000, 1688221440000, 1688230080000, 1688238720000, 1688247360000, 1688256000000, 1688264640000, 1688273280000, 1688281920000, 1688290560000, 1688299200000, 1688307840000, 1688316480000, 1688325120000, 1688333760000, 1688342400000, 1688351040000, 1688359680000, 1688368320000, 1688376960000, 1688385600000, 1688394240000, 1688402880000, 1688411520000, 1688420160000, 1688428800000, 1688437440000, 1688446080000, 1688454720000, 1688463360000, 1688472000000, 1688480640000, 1688489280000], "labels": false, "grid": false, "tickSize": 4, "title": null}},
            "y": {"field": "flux", "type": "quantitative", "scale": {"domain": [-76.2, 8.7], "nice": false, "zero": false}, "axis": {"orient": "left", "values": [5, 0, -5, -10, -15, -20, -25, -30, -35, -40, -45, -50, -55, -60, -65, -70, -75], "labels": false, "grid": false, "tickSize": 4, "title": "b)", "titleAngle": 0, "titleX": 0, "titleY": -10, "titleAlign": "left", "titleBaseline": "alphabetic", "titleFontWeight": "bold", "titleFontSize": 19.5}}
          }
        },
        {
          "transform": [{"filter": "datum.run === 'ocean-first'"}],
          "mark": {"type": "line", "strokeWidth": 2.3},
          "encoding": {
            "x": {"field": "t", "type": "temporal", "scale": {"type": "utc", "domain": [1688144400000, 1688490000000]}, "axis": {"orient": "top", "ticks": false, "labels": false, "grid": false, "title": "Surface Latent Heat Flux", "titleFontSize": 19.5, "titlePadding": 10, "titleBaseline": "alphabetic"}}
          }
        },
        {
          "transform": [{"filter": "datum.run === 'converged SWR'"}],
          "mark": {"type": "line", "strokeWidth": 3}
        }
      ],
      "resolve": {"axis": {"x": "independent", "y": "independent"}}
    },
    {
      "width": 498, "height": 284,
      "data": {"name": "sw"},
      "transform": [{"fold": ["parallel", "atmosphere-first", "ocean-first", "converged SWR"], "as": ["run", "radiation"]}],
      "encoding": {
        "x": {"field": "t", "type": "temporal", "scale": {"type": "utc", "domain": [1688144400000, 1688490000000]}, "axis": null},
        "y": {"field": "radiation", "type": "quantitative", "scale": {"domain": [-139.7, 885.6], "nice": false, "zero": false}, "axis": null},
        "color": {"field": "run", "type": "nominal", "scale": {"domain": ["parallel", "atmosphere-first", "ocean-first", "converged SWR"], "range": ["#bf00bf", "#00bfbf", "#bfbf00", "#000000"]}, "legend": {"title": null, "orient": "none", "legendX": 201, "legendY": 715, "direction": "horizontal", "symbolType": "stroke", "symbolSize": 1089, "symbolStrokeWidth": 2.3, "labelFontSize": 17, "labelColor": "#000000", "labelOffset": 10, "columnPadding": 27}},
        "strokeDash": {"field": "run", "type": "nominal", "scale": {"domain": ["parallel", "atmosphere-first", "ocean-first", "converged SWR"], "range": [[7.4, 3.2], [2, 3.3], [12.8, 3.2, 2, 3.2], [1, 0]]}, "legend": {"title": null, "orient": "none", "legendX": 201, "legendY": 715, "direction": "horizontal", "symbolType": "stroke", "symbolSize": 1089, "symbolStrokeWidth": 2.3, "labelFontSize": 17, "labelColor": "#000000", "labelOffset": 10, "columnPadding": 27}}
      },
      "layer": [
        {
          "transform": [{"filter": "datum.run === 'parallel'"}],
          "mark": {"type": "line", "strokeWidth": 2.3},
          "encoding": {
            "x": {"field": "t", "type": "temporal", "scale": {"type": "utc", "domain": [1688144400000, 1688490000000]}, "axis": {"orient": "bottom", "values": [1688169600000, 1688212800000, 1688256000000, 1688299200000, 1688342400000, 1688385600000, 1688428800000, 1688472000000], "format": "%m-%d %H", "labelAngle": -30, "labelAlign": "right", "labelBaseline": "top", "labelPadding": 3, "labelFlush": false, "labelOverlap": false, "grid": true, "tickSize": 7, "title": "Time", "titleX": 528, "titleY": 77, "titleAlign": "center", "titleBaseline": "middle"}},
            "y": {"field": "radiation", "type": "quantitative", "scale": {"domain": [-139.7, 885.6], "nice": false, "zero": false}, "axis": {"orient": "left", "values": [0, 200, 400, 600, 800], "format": "d", "grid": true, "tickSize": 7, "title": "Radiation [W m⁻²]", "titlePadding": 12}}
          }
        },
        {
          "transform": [{"filter": "datum.run === 'atmosphere-first'"}],
          "mark": {"type": "line", "strokeWidth": 2.3},
          "encoding": {
            "x": {"field": "t", "type": "temporal", "scale": {"type": "utc", "domain": [1688144400000, 1688490000000]}, "axis": {"orient": "bottom", "values": [1688152320000, 1688160960000, 1688169600000, 1688178240000, 1688186880000, 1688195520000, 1688204160000, 1688212800000, 1688221440000, 1688230080000, 1688238720000, 1688247360000, 1688256000000, 1688264640000, 1688273280000, 1688281920000, 1688290560000, 1688299200000, 1688307840000, 1688316480000, 1688325120000, 1688333760000, 1688342400000, 1688351040000, 1688359680000, 1688368320000, 1688376960000, 1688385600000, 1688394240000, 1688402880000, 1688411520000, 1688420160000, 1688428800000, 1688437440000, 1688446080000, 1688454720000, 1688463360000, 1688472000000, 1688480640000, 1688489280000], "labels": false, "grid": false, "tickSize": 4, "title": null}},
            "y": {"field": "radiation", "type": "quantitative", "scale": {"domain": [-139.7, 885.6], "nice": false, "zero": false}, "axis": {"orient": "left", "values": [850, 800, 750, 700, 650, 600, 550, 500, 450, 400, 350, 300, 250, 200, 150, 100, 50, 0, -50, -100], "labels": false, "grid": false, "tickSize": 4, "title": "c)", "titleAngle": 0, "titleX": 0, "titleY": -10, "titleAlign": "left", "titleBaseline": "alphabetic", "titleFontWeight": "bold", "titleFontSize": 19.5}}
          }
        },
        {
          "transform": [{"filter": "datum.run === 'ocean-first'"}],
          "mark": {"type": "line", "strokeWidth": 2.3},
          "encoding": {
            "x": {"field": "t", "type": "temporal", "scale": {"type": "utc", "domain": [1688144400000, 1688490000000]}, "axis": {"orient": "top", "ticks": false, "labels": false, "grid": false, "title": "Net Surface Shortwave Radiation", "titleFontSize": 19.5, "titlePadding": 10, "titleBaseline": "alphabetic"}}
          }
        },
        {
          "transform": [{"filter": "datum.run === 'converged SWR'"}],
          "mark": {"type": "line", "strokeWidth": 3}
        }
      ],
      "resolve": {"axis": {"x": "independent", "y": "independent"}}
    },
    {
      "width": 498, "height": 284,
      "data": {"name": "lw"},
      "transform": [{"fold": ["parallel", "atmosphere-first", "ocean-first", "converged SWR"], "as": ["run", "radiation"]}],
      "encoding": {
        "x": {"field": "t", "type": "temporal", "scale": {"type": "utc", "domain": [1688144400000, 1688490000000]}, "axis": null},
        "y": {"field": "radiation", "type": "quantitative", "scale": {"domain": [-139.7, 885.6], "nice": false, "zero": false}, "axis": null},
        "color": {"field": "run", "type": "nominal", "scale": {"domain": ["parallel", "atmosphere-first", "ocean-first", "converged SWR"], "range": ["#bf00bf", "#00bfbf", "#bfbf00", "#000000"]}, "legend": {"title": null, "orient": "none", "legendX": 201, "legendY": 715, "direction": "horizontal", "symbolType": "stroke", "symbolSize": 1089, "symbolStrokeWidth": 2.3, "labelFontSize": 17, "labelColor": "#000000", "labelOffset": 10, "columnPadding": 27}},
        "strokeDash": {"field": "run", "type": "nominal", "scale": {"domain": ["parallel", "atmosphere-first", "ocean-first", "converged SWR"], "range": [[7.4, 3.2], [2, 3.3], [12.8, 3.2, 2, 3.2], [1, 0]]}, "legend": {"title": null, "orient": "none", "legendX": 201, "legendY": 715, "direction": "horizontal", "symbolType": "stroke", "symbolSize": 1089, "symbolStrokeWidth": 2.3, "labelFontSize": 17, "labelColor": "#000000", "labelOffset": 10, "columnPadding": 27}}
      },
      "layer": [
        {
          "transform": [{"filter": "datum.run === 'parallel'"}],
          "mark": {"type": "line", "strokeWidth": 2.3},
          "encoding": {
            "x": {"field": "t", "type": "temporal", "scale": {"type": "utc", "domain": [1688144400000, 1688490000000]}, "axis": {"orient": "bottom", "values": [1688169600000, 1688212800000, 1688256000000, 1688299200000, 1688342400000, 1688385600000, 1688428800000, 1688472000000], "format": "%m-%d %H", "labelAngle": -30, "labelAlign": "right", "labelBaseline": "top", "labelPadding": 3, "labelFlush": false, "labelOverlap": false, "grid": true, "tickSize": 7, "title": null}},
            "y": {"field": "radiation", "type": "quantitative", "scale": {"domain": [-139.7, 885.6], "nice": false, "zero": false}, "axis": {"orient": "left", "values": [0, 200, 400, 600, 800], "format": "d", "grid": true, "tickSize": 7, "title": null}}
          }
        },
        {
          "transform": [{"filter": "datum.run === 'atmosphere-first'"}],
          "mark": {"type": "line", "strokeWidth": 2.3},
          "encoding": {
            "x": {"field": "t", "type": "temporal", "scale": {"type": "utc", "domain": [1688144400000, 1688490000000]}, "axis": {"orient": "bottom", "values": [1688152320000, 1688160960000, 1688169600000, 1688178240000, 1688186880000, 1688195520000, 1688204160000, 1688212800000, 1688221440000, 1688230080000, 1688238720000, 1688247360000, 1688256000000, 1688264640000, 1688273280000, 1688281920000, 1688290560000, 1688299200000, 1688307840000, 1688316480000, 1688325120000, 1688333760000, 1688342400000, 1688351040000, 1688359680000, 1688368320000, 1688376960000, 1688385600000, 1688394240000, 1688402880000, 1688411520000, 1688420160000, 1688428800000, 1688437440000, 1688446080000, 1688454720000, 1688463360000, 1688472000000, 1688480640000, 1688489280000], "labels": false, "grid": false, "tickSize": 4, "title": null}},
            "y": {"field": "radiation", "type": "quantitative", "scale": {"domain": [-139.7, 885.6], "nice": false, "zero": false}, "axis": {"orient": "left", "values": [850, 800, 750, 700, 650, 600, 550, 500, 450, 400, 350, 300, 250, 200, 150, 100, 50, 0, -50, -100], "labels": false, "grid": false, "tickSize": 4, "title": "d)", "titleAngle": 0, "titleX": 0, "titleY": -10, "titleAlign": "left", "titleBaseline": "alphabetic", "titleFontWeight": "bold", "titleFontSize": 19.5}}
          }
        },
        {
          "transform": [{"filter": "datum.run === 'ocean-first'"}],
          "mark": {"type": "line", "strokeWidth": 2.3},
          "encoding": {
            "x": {"field": "t", "type": "temporal", "scale": {"type": "utc", "domain": [1688144400000, 1688490000000]}, "axis": {"orient": "top", "ticks": false, "labels": false, "grid": false, "title": "Net Surface Longwave Radiation", "titleFontSize": 19.5, "titlePadding": 10, "titleBaseline": "alphabetic"}}
          }
        },
        {
          "transform": [{"filter": "datum.run === 'converged SWR'"}],
          "mark": {"type": "line", "strokeWidth": 3}
        }
      ],
      "resolve": {"axis": {"x": "independent", "y": "independent"}}
    }
  ]
}
